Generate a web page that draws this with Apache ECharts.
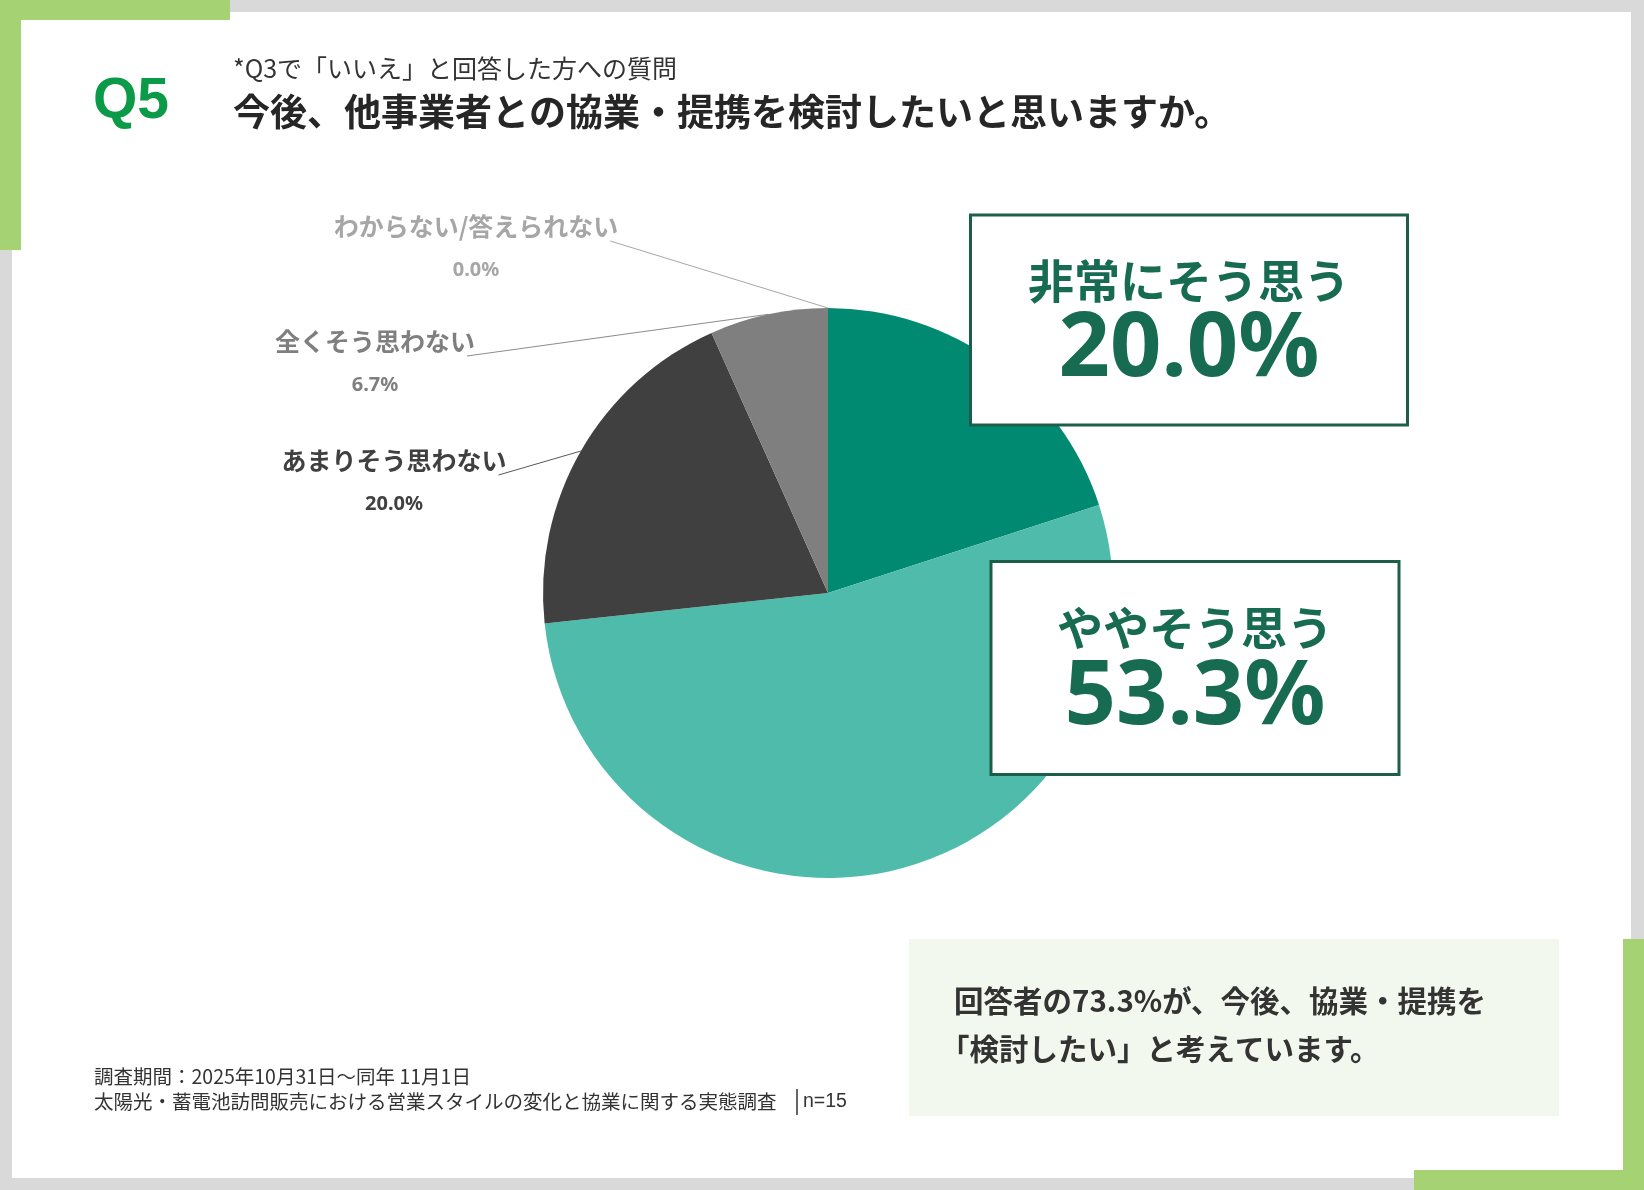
<!DOCTYPE html>
<html lang="ja">
<head>
<meta charset="utf-8">
<title>Q5 協業・提携の意向</title>
<script src="https://cdn.jsdelivr.net/npm/echarts@6/dist/echarts.min.js"></script>
<style>
html, body { margin: 0; padding: 0; background: #fff; }
#chart { width: 1644px; height: 1190px; }
</style>
</head>
<body>
<div id="chart"></div>
<script>
// 回答カテゴリ（12時の位置から時計回り）
var categories = ['非常にそう思う', 'ややそう思う', 'あまりそう思わない', '全くそう思わない', 'わからない/答えられない'];
// 回答率（%）
var shares = [20.0, 53.3, 20.0, 6.7, 0.0];
var sampleSize = 15;

var sliceColors = ['#008a72', '#4fbcab', '#404040', '#7f7f7f', '#bfbfbf'];
var labelInk = ['#176b51', '#176b51', '#404040', '#7f7f7f', '#a6a6a6'];
var lineInk = ['#7f7f7f', '#7f7f7f', '#595959', '#8c8c8c', '#a6a6a6'];
// ラベル位置：箱ラベルは中心、左側ラベルは上端中央
var labelSpots = [[1189, 320], [1195, 668], [394, 445], [375, 326], [476, 211]];
var boxWidths = [434, 405];
var boxPads = [[34, 0, 33, 0], [35, 0, 35, 0]];

var JP = '"Noto Sans CJK JP", "Noto Sans", sans-serif';
var LATIN = '"Noto Sans", "Open Sans", sans-serif';

var myChart = echarts.init(document.getElementById('chart'));

// rich スタイル（項目ごと）
var rich = {};
for (var k = 0; k < categories.length; k++) {
    if (k < 2) {
        rich['n' + k] = { fontFamily: JP, fontSize: 46, fontWeight: 'bold', color: labelInk[k], lineHeight: 60, align: 'center' };
        rich['v' + k] = { fontFamily: LATIN, fontSize: 90, fontWeight: 'bold', color: labelInk[k], lineHeight: 80, align: 'center' };
    } else {
        rich['n' + k] = { fontFamily: JP, fontSize: 25, fontWeight: 'bold', color: labelInk[k], lineHeight: 30, align: 'center' };
        rich['v' + k] = { fontFamily: LATIN, fontSize: 20, fontWeight: 'bold', color: labelInk[k], lineHeight: 58, align: 'center' };
    }
}

var pieData = categories.map(function (name, i) {
    var item = {
        name: name,
        value: shares[i],
        itemStyle: { color: sliceColors[i] },
        labelLine: { show: i >= 2, lineStyle: { color: lineInk[i], width: 1 } }
    };
    if (i < 2) {
        item.label = {
            width: boxWidths[i],
            padding: boxPads[i],
            backgroundColor: '#ffffff',
            borderColor: '#1d5e48',
            borderWidth: 3
        };
    }
    return item;
});

var totalAgree = (shares[0] + shares[1]).toFixed(1);

var option = {
    backgroundColor: '#ffffff',
    animation: false,
    graphic: [
        // 枠
        { type: 'rect', shape: { x: 0, y: 0, width: 1644, height: 1190 }, style: { fill: '#d9d9d9' } },
        { type: 'rect', shape: { x: 12, y: 12, width: 1619, height: 1166 }, style: { fill: '#ffffff' } },
        { type: 'rect', shape: { x: 0, y: 0, width: 230, height: 20 }, style: { fill: '#a5d374' } },
        { type: 'rect', shape: { x: 0, y: 0, width: 21, height: 250 }, style: { fill: '#a5d374' } },
        { type: 'rect', shape: { x: 1623, y: 939, width: 21, height: 251 }, style: { fill: '#a5d374' } },
        { type: 'rect', shape: { x: 1414, y: 1170, width: 230, height: 20 }, style: { fill: '#a5d374' } },
        // 見出し
        { type: 'text', x: 93, y: 102, style: { text: 'Q5', font: 'bold 57px "Liberation Sans", Arial, sans-serif', fill: '#0b9a48', verticalAlign: 'middle', textVerticalAlign: 'middle' } },
        { type: 'text', x: 233, y: 68, style: { text: '*Q3で「いいえ」と回答した方への質問', font: '25px ' + JP, fill: '#333333', verticalAlign: 'middle', textVerticalAlign: 'middle' } },
        { type: 'text', x: 233, y: 112, style: { text: '今後、他事業者との協業・提携を検討したいと思いますか。', font: 'bold 37px ' + JP, fill: '#262626', verticalAlign: 'middle', textVerticalAlign: 'middle' } },
        // まとめ
        { type: 'rect', shape: { x: 909, y: 939, width: 650, height: 177 }, style: { fill: '#f3f8ee' } },
        { type: 'text', x: 954, y: 1001, style: { text: '回答者の' + totalAgree + '%が、今後、協業・提携を', font: 'bold 29.5px ' + JP, fill: '#333333', verticalAlign: 'middle', textVerticalAlign: 'middle' } },
        { type: 'text', x: 940, y: 1049, style: { text: '「検討したい」と考えています。', font: 'bold 29.5px ' + JP, fill: '#333333', verticalAlign: 'middle', textVerticalAlign: 'middle' } },
        // 出典
        { type: 'text', x: 94, y: 1077, style: { text: '調査期間：2025年10月31日～同年 11月1日', font: '19.5px ' + JP, fill: '#333333', verticalAlign: 'middle', textVerticalAlign: 'middle' } },
        { type: 'text', x: 94, y: 1102, style: { text: '太陽光・蓄電池訪問販売における営業スタイルの変化と協業に関する実態調査', font: '19.5px ' + JP, fill: '#333333', verticalAlign: 'middle', textVerticalAlign: 'middle' } },
        { type: 'line', shape: { x1: 797, y1: 1089, x2: 797, y2: 1115 }, style: { stroke: '#333333', lineWidth: 1.5 } },
        { type: 'text', x: 803, y: 1102, style: { text: 'n=' + sampleSize, font: '19.5px "Liberation Sans", Arial, sans-serif', fill: '#333333', verticalAlign: 'middle', textVerticalAlign: 'middle' } }
    ],
    series: [{
        type: 'pie',
        center: [828, 593],
        radius: 285,
        startAngle: 90,
        clockwise: true,
        avoidLabelOverlap: false,
        silent: true,
        z: 10,
        label: {
            show: true,
            position: 'outside',
            formatter: function (p) {
                return '{n' + p.dataIndex + '|' + p.name + '}\n{v' + p.dataIndex + '|' + p.value.toFixed(1) + '%}';
            },
            rich: rich
        },
        labelLine: { show: true, length: 20, length2: 20 },
        labelLayout: function (params) {
            var i = params.dataIndex;
            var spot = labelSpots[i];
            if (i < 2) {
                return { x: spot[0], y: spot[1], align: 'center', verticalAlign: 'middle' };
            }
            var out = { x: spot[0], y: spot[1], align: 'center', verticalAlign: 'top' };
            var pts = params.labelLinePoints;
            if (pts) {
                var endX = spot[0] + params.labelRect.width / 2 - 8;
                var endY = spot[1] + 30;
                out.labelLinePoints = [pts[0], [endX, endY], [endX, endY]];
            }
            return out;
        },
        data: pieData
    }]
};

myChart.setOption(option);
</script>
</body>
</html>
